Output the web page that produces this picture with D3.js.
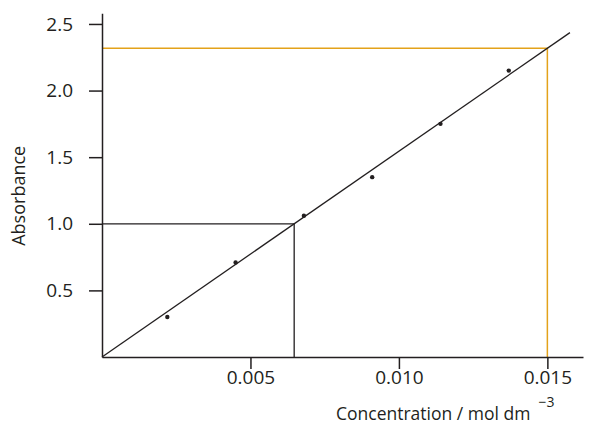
<!DOCTYPE html>
<html>
<head>
<meta charset="utf-8">
<script src="https://cdn.jsdelivr.net/npm/d3@7"></script>
<style>
  body { margin: 0; background: #fff; }
  text { font-family: "Open Sans", sans-serif; fill: #231f20; }
</style>
</head>
<body>
<svg width="594" height="433"></svg>
<script>
  // measured points
  const concentration = [0.0022, 0.0045, 0.0068, 0.0091, 0.0114, 0.0137];
  const absorbance = [0.30, 0.71, 1.06, 1.35, 1.75, 2.15];
  const xTicks = [0.005, 0.010, 0.015];
  const yTicks = [0.5, 1.0, 1.5, 2.0, 2.5];
  // best-fit line (through origin) and the two read-offs
  const fitSlope = 154.5;
  const fitEnd = 0.01576;
  const readConc = 0.015;     // orange: concentration -> absorbance
  const readAbs = 1.0;        // black: absorbance -> concentration

  const svg = d3.select('svg');

  const xScale = d3.scaleLinear().domain([0, 0.0162]).range([102, 583]);
  const yScale = d3.scaleLinear().domain([0, 2.58]).range([357, 13.3]);

  const ink = '#231f20';
  const orange = '#e3a21a';

  const xAxis = d3.axisBottom(xScale)
    .tickValues(xTicks)
    .tickFormat(d3.format('.3f'))
    .tickSizeInner(12)
    .tickSizeOuter(0)
    .tickPadding(2);
  const yAxis = d3.axisLeft(yScale)
    .tickValues(yTicks)
    .tickFormat(d3.format('.1f'))
    .tickSizeInner(13)
    .tickSizeOuter(0)
    .tickPadding(16);

  const line = d3.line().x(d => xScale(d[0])).y(d => yScale(d[1]));

  // read-off lines first, axes on top
  svg.append('path')
    .attr('d', line([[0, fitSlope * readConc], [readConc, fitSlope * readConc], [readConc, 0]]))
    .attr('fill', 'none').attr('stroke', orange).attr('stroke-width', 1.5);

  svg.append('path')
    .attr('d', line([[0, readAbs], [readAbs / fitSlope, readAbs], [readAbs / fitSlope, 0]]))
    .attr('fill', 'none').attr('stroke', ink).attr('stroke-width', 1.3);

  svg.append('path')
    .attr('d', line([[0, 0], [fitEnd, fitSlope * fitEnd]]))
    .attr('fill', 'none').attr('stroke', ink).attr('stroke-width', 1.3);

  const xAxisG = svg.append('g')
    .attr('transform', `translate(0, ${yScale(0)})`)
    .call(xAxis);
  const yAxisG = svg.append('g')
    .attr('transform', `translate(${xScale(0)}, 0)`)
    .call(yAxis);

  [xAxisG, yAxisG].forEach(g => {
    g.select('.domain').attr('stroke', ink).attr('stroke-width', 1.5);
    g.selectAll('.tick line').attr('stroke', ink).attr('stroke-width', 1.5);
    g.selectAll('.tick text')
      .attr('fill', ink)
      .style('font-size', '19px')
      .style('font-family', '"Open Sans", sans-serif');
  });

  svg.selectAll('circle.pt').data(concentration)
    .enter().append('circle')
      .attr('class', 'pt')
      .attr('cx', d => xScale(d))
      .attr('cy', (d, i) => yScale(absorbance[i]))
      .attr('r', 2.2)
      .attr('fill', ink);

  svg.append('text')
    .attr('transform', `translate(25, ${yScale(1.21)}) rotate(-90)`)
    .attr('text-anchor', 'middle')
    .style('font-size', '18px')
    .text('Absorbance');

  const xLabel = svg.append('text')
    .attr('x', 336)
    .attr('y', 420)
    .style('font-size', '17.5px');
  xLabel.append('tspan').text('Concentration / mol dm');
  xLabel.append('tspan')
    .attr('dx', 8)
    .attr('dy', -13)
    .style('font-size', '14px')
    .text('\u22123');
</script>
</body>
</html>
